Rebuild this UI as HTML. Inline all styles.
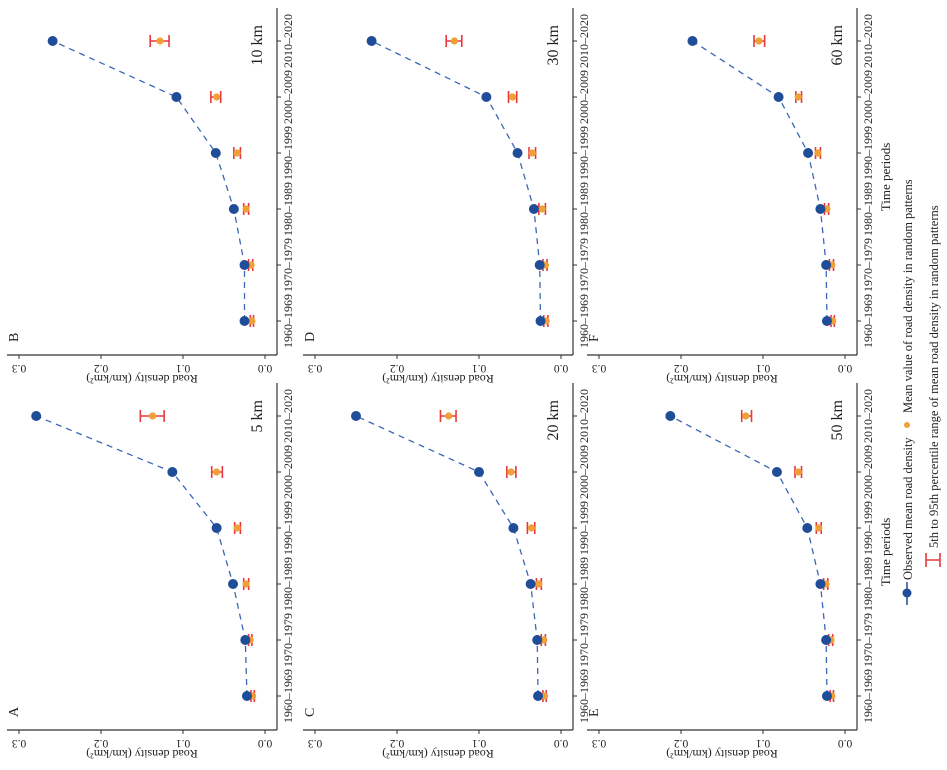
<!DOCTYPE html>
<html><head><meta charset="utf-8">
<style>
html,body{margin:0;padding:0;background:#fff;}
body{width:947px;height:770px;overflow:hidden;position:relative;}
#rot{position:absolute;left:0;top:0;width:770px;height:947px;transform-origin:0 0;transform:translate(0,770px) rotate(-90deg);}
svg text{font-family:"Liberation Serif",serif;fill:#222;}
</style></head>
<body>
<div id="rot">
<svg id="chart" width="770" height="947" viewBox="0 0 770 947" xmlns="http://www.w3.org/2000/svg"></svg>
</div>
<script>
const periods = ["1960–1969","1970–1979","1980–1989","1990–1999","2000–2009","2010–2020"];
const yTicks = [0.0,0.1,0.2,0.3];
const yTickLabels = ["0.0","0.1","0.2","0.3"];
const panelLetters = ["A","B","C","D","E","F"];
const panelScales = ["5 km","10 km","20 km","30 km","50 km","60 km"];
const obsA = [0.022,0.024,0.039,0.059,0.113,0.279];
const meanA = [0.015,0.018,0.023,0.034,0.059,0.137];
const loA = [0.013,0.016,0.020,0.030,0.052,0.123];
const hiA = [0.017,0.020,0.026,0.037,0.065,0.152];
const obsB = [0.025,0.025,0.038,0.060,0.108,0.259];
const meanB = [0.016,0.017,0.023,0.034,0.059,0.128];
const loB = [0.014,0.015,0.020,0.030,0.054,0.117];
const hiB = [0.018,0.020,0.026,0.038,0.066,0.140];
const obsC = [0.028,0.029,0.037,0.058,0.100,0.250];
const meanC = [0.020,0.021,0.027,0.036,0.061,0.137];
const loC = [0.018,0.019,0.024,0.032,0.055,0.128];
const hiC = [0.022,0.024,0.030,0.041,0.066,0.147];
const obsD = [0.025,0.026,0.033,0.053,0.091,0.231];
const meanD = [0.018,0.019,0.023,0.035,0.059,0.130];
const loD = [0.016,0.017,0.019,0.031,0.054,0.121];
const hiD = [0.021,0.022,0.027,0.039,0.064,0.140];
const obsE = [0.022,0.023,0.030,0.046,0.083,0.213];
const meanE = [0.016,0.017,0.023,0.032,0.057,0.121];
const loE = [0.014,0.015,0.021,0.029,0.053,0.114];
const hiE = [0.018,0.020,0.026,0.035,0.061,0.126];
const obsF = [0.022,0.023,0.030,0.045,0.081,0.186];
const meanF = [0.015,0.016,0.022,0.033,0.057,0.105];
const loF = [0.013,0.014,0.020,0.030,0.053,0.098];
const hiF = [0.017,0.019,0.025,0.036,0.060,0.111];

const allObs=[obsA,obsB,obsC,obsD,obsE,obsF];
const allMean=[meanA,meanB,meanC,meanD,meanE,meanF];
const allLo=[loA,loB,loC,loD,loE,loF];
const allHi=[hiA,hiB,hiC,hiD,hiE,hiF];

const NS="http://www.w3.org/2000/svg";
const svg=document.getElementById('chart');
function mk(tag,attrs,parent){const e=document.createElementNS(NS,tag);for(const k in attrs)e.setAttribute(k,attrs[k]);(parent||svg).appendChild(e);return e;}

const colX0=[40,415];
const rowAxis=[277,573,857];
const PX=820;

for(let p=0;p<6;p++){
  const col=p%2,row=Math.floor(p/2);
  const left=colX0[col], axisY=rowAxis[row], zeroY=axisY-12;
  const xS=i=>left+34+i*56;
  const yS=v=>zeroY-v*PX;
  const g=mk('g',{});
  
  
  const xa=mk('line',{x1:left,y1:axisY,x2:left+347,y2:axisY,stroke:'#333','stroke-width':1.2},g);
  
  
  const ya=mk('line',{x1:left,y1:yS(0.3)-12,x2:left,y2:axisY,stroke:'#333','stroke-width':1.2},g);
  
  
  periods.forEach((lab,i)=>{
    mk('line',{x1:xS(i),y1:axisY,x2:xS(i),y2:axisY+4,stroke:'#333','stroke-width':1},g);
    const t=mk('text',{x:xS(i),y:axisY+15,'text-anchor':'middle','font-size':12},g);
    t.textContent=lab;
    
    
  });
  yTicks.forEach((v,i)=>{
    mk('line',{x1:left-4,y1:yS(v),x2:left,y2:yS(v),stroke:'#333','stroke-width':1},g);
    const t=mk('text',{x:left-10,y:yS(v),'text-anchor':'middle','font-size':11.5,transform:`rotate(-90 ${left-10} ${yS(v)})`},g);
    t.textContent=yTickLabels[i];
    
    
  });
  const yc=(yS(0.3)+yS(0))/2;
  const yt=mk('text',{x:left-20,y:yc,'text-anchor':'middle','font-size':12,transform:`rotate(-90 ${left-20} ${yc})`},g);
  yt.textContent='Road density (km/km²)';
  
  
  if(row===2){
    const tt=mk('text',{x:left+178,y:axisY+33,'text-anchor':'middle','font-size':13},g);
    tt.textContent='Time periods';
    
    
  }
  const lt=mk('text',{x:left+13,y:yS(0.3)-1,'font-size':14},g);
  lt.textContent=panelLetters[p];
  
  
  const st=mk('text',{x:left+330,y:zeroY-3,'text-anchor':'end','font-size':16},g);
  st.textContent=panelScales[p];
  
  
  const obs=allObs[p];
  const pl=mk('polyline',{points:obs.map((v,i)=>xS(i)+','+yS(v)).join(' '),fill:'none',stroke:'#3a67b8','stroke-width':1.3,'stroke-dasharray':'6,5'},g);
  
  
  allMean[p].forEach((v,i)=>{
    const lo=allLo[p][i],hi=allHi[p][i],x=xS(i);
    const eb=mk('path',{d:`M${x-6},${yS(lo)}H${x+6}M${x-6},${yS(hi)}H${x+6}M${x},${yS(lo)}V${yS(hi)}`,stroke:'#e8383d','stroke-width':1.6,fill:'none'},g);
    
    
    const c=mk('circle',{cx:x,cy:yS(v),r:3.6,fill:'#f0a034'},g);
    
    
  });
  obs.forEach((v,i)=>{
    const c=mk('circle',{cx:xS(i),cy:yS(v),r:5,fill:'#1f4d98'},g);
    
    
  });
}
const lg=mk('g',{});


mk('line',{x1:165,y1:907,x2:188,y2:907,stroke:'#1f4d98','stroke-width':1.5},lg);
mk('circle',{cx:177,cy:907,r:4.5,fill:'#1f4d98'},lg);
const l1=mk('text',{x:190,y:912,'font-size':12.5},lg);
l1.textContent='Observed mean road density';


mk('circle',{cx:345,cy:907,r:3,fill:'#f0a034'},lg);
const l2=mk('text',{x:357,y:912,'font-size':12.5},lg);
l2.textContent='Mean value of road density in random patterns';


mk('path',{d:'M203,926H217M203,940H217M210,926V940',stroke:'#e8383d','stroke-width':1.6,fill:'none'},lg);
const l3=mk('text',{x:222,y:938,'font-size':12.5},lg);
l3.textContent='5th to 95th percentile range of mean road density in random patterns';


</script>
</body></html>
